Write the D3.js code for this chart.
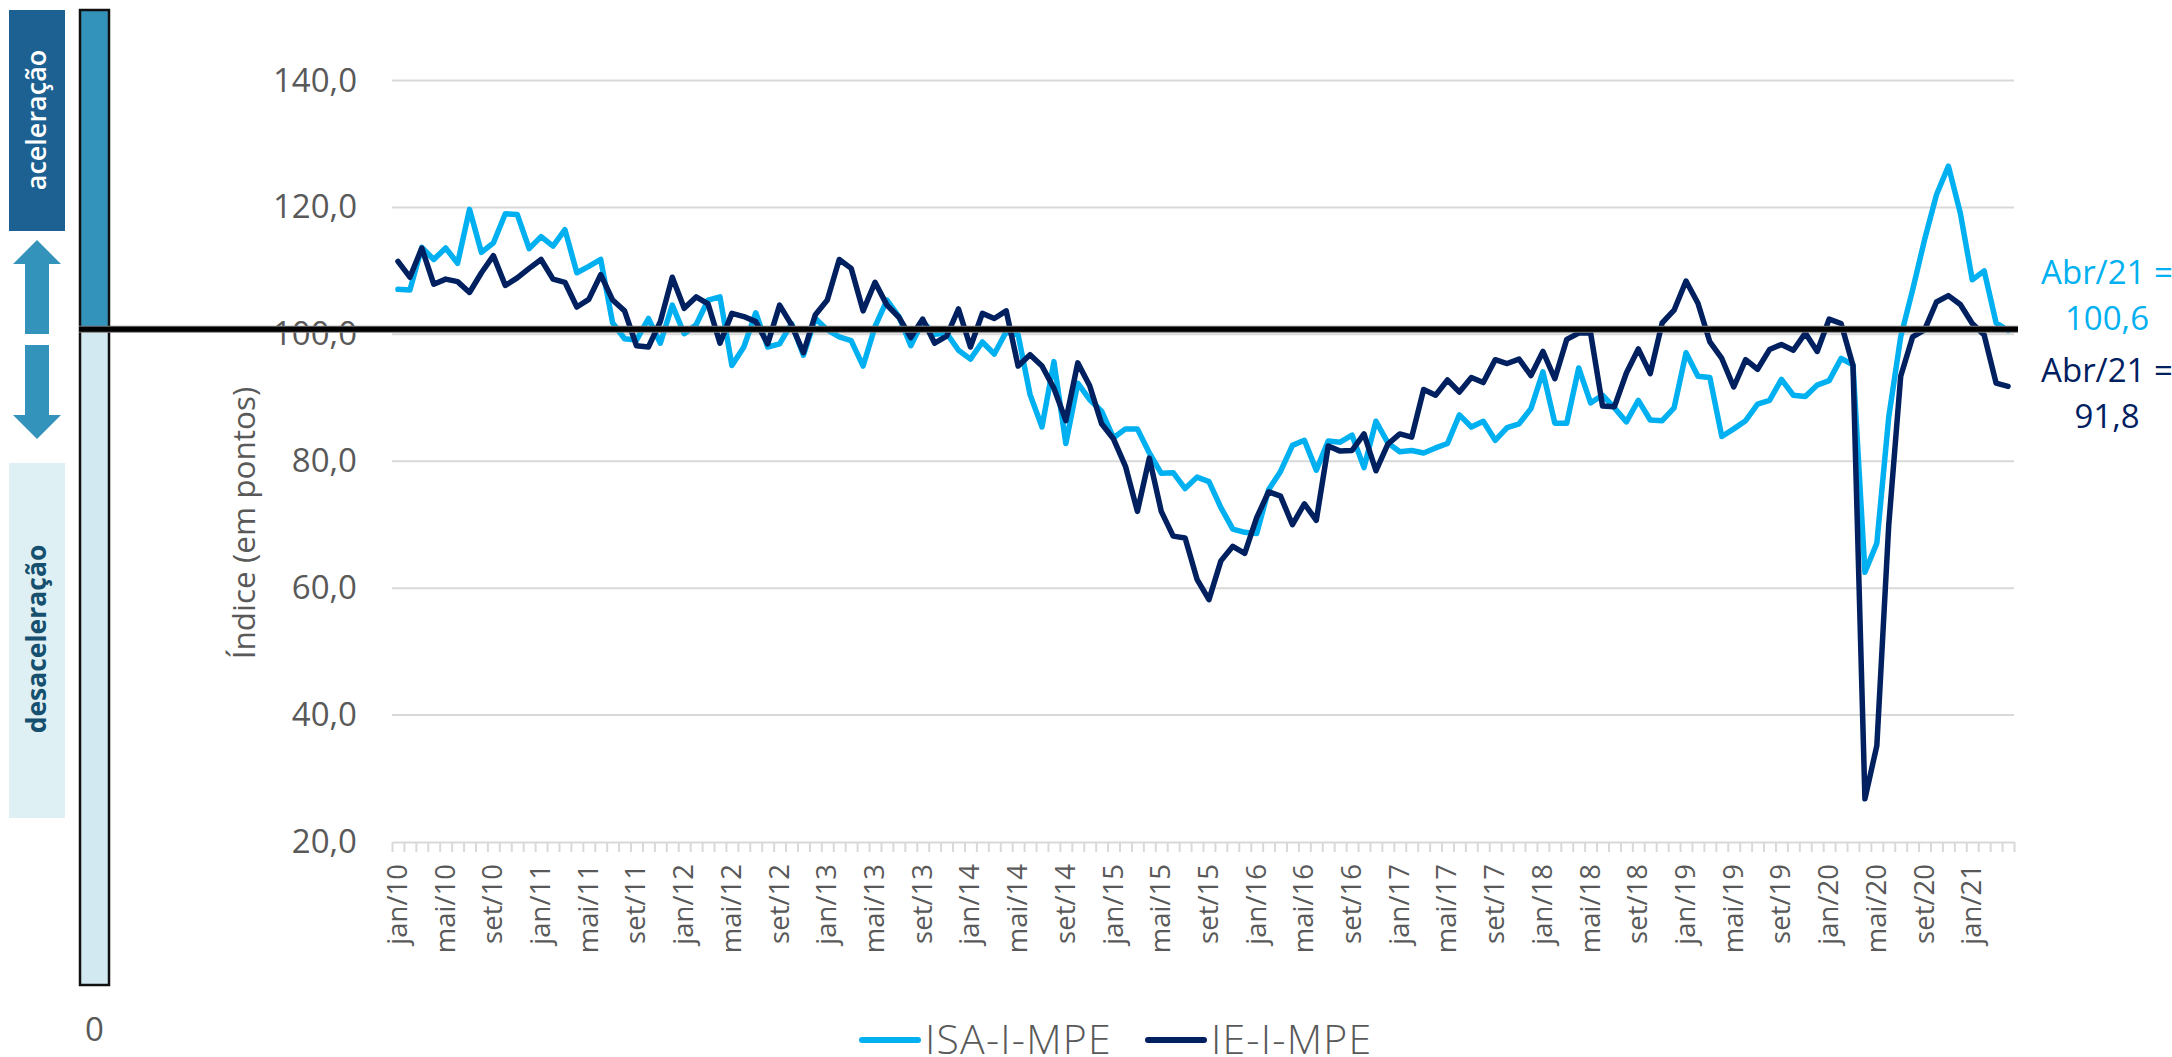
<!DOCTYPE html>
<html><head><meta charset="utf-8">
<style>
html,body{margin:0;padding:0;background:#fff;overflow:hidden}
text{font-family:"Open Sans","Noto Sans",sans-serif}
</style>
<script src="https://cdn.jsdelivr.net/npm/d3@7"></script>
</head><body><svg id="c" width="2172" height="1057"></svg>
<script>
const monthNames=["jan","fev","mar","abr","mai","jun","jul","ago","set","out","nov","dez"];
const years=["10","11","12","13","14","15","16","17","18","19","20","21"];
const monthCount=136;
const yTicks=[20,40,60,80,100,120,140];
const refLevel=100.8;
const isa=[107.1,107.0,113.7,111.8,113.6,111.2,119.7,112.9,114.4,119.0,118.9,113.5,115.4,113.9,116.5,109.7,110.7,111.8,101.8,99.3,
99.1,102.5,98.6,104.6,100.1,101.5,105.4,105.9,95.1,98.0,103.4,98.0,98.5,101.7,96.7,102.5,100.7,99.6,99.0,95.0,
101.2,105.4,102.8,98.2,102.0,100.0,100.2,97.5,96.1,98.8,96.9,100.4,99.9,90.5,85.4,95.7,82.8,92.3,89.7,87.9,
83.7,85.1,85.1,81.3,78.1,78.2,75.7,77.5,76.8,72.7,69.3,68.8,68.6,75.5,78.4,82.5,83.3,78.6,83.2,83.0,
84.1,79.0,86.3,82.9,81.5,81.7,81.3,82.1,82.8,87.3,85.4,86.3,83.3,85.3,85.9,88.3,94.1,86.0,86.0,94.7,
89.2,90.4,88.4,86.2,89.6,86.5,86.4,88.4,97.1,93.4,93.2,83.9,85.1,86.4,89.0,89.6,92.9,90.4,90.2,92.0,
92.7,96.2,95.2,62.5,67.1,87.0,99.6,107.0,114.9,122.0,126.5,119.1,108.6,110.0,101.8,100.6];
const ie=[111.5,109.0,113.6,107.9,108.7,108.3,106.6,109.7,112.4,107.7,108.9,110.4,111.8,108.7,108.2,104.3,105.5,109.4,105.4,103.7,
98.2,98.0,102.0,109.0,104.1,105.9,104.8,98.6,103.3,102.8,102.0,98.5,104.6,101.5,97.1,103.1,105.4,111.8,110.4,103.7,
108.2,104.6,102.7,99.5,102.4,98.6,99.7,104.0,98.0,103.3,102.5,103.7,95.0,96.8,95.0,91.5,86.4,95.5,91.9,85.9,
83.5,79.2,72.1,80.5,72.1,68.2,67.9,61.4,58.2,64.3,66.6,65.5,71.1,75.2,74.5,70.0,73.3,70.7,82.4,81.6,
81.7,84.3,78.5,82.7,84.3,83.8,91.3,90.4,92.8,90.9,93.2,92.4,96.0,95.4,96.1,93.5,97.3,93.0,99.2,100.2,
100.2,88.7,88.6,93.9,97.7,93.8,101.8,103.8,108.4,104.9,98.8,96.2,91.7,96.0,94.5,97.6,98.4,97.5,100.2,97.3,
102.4,101.7,95.1,26.8,35.2,70.0,93.4,99.6,100.7,105.1,106.1,104.7,101.7,99.9,92.3,91.8];
const seriesNames=["ISA-I-MPE","IE-I-MPE"];
const noteLines=[["Abr/21 =","100,6"],["Abr/21 =","91,8"]];
const sideLabels=["aceleração","desaceleração"];

const categories=d3.range(monthCount).map(i=>monthNames[i%12]+"/"+years[Math.floor(i/12)]);
const labelled=categories.filter((d,i)=>i%4===0);
const cISA="#00B0F0",cIE="#002060",grey="#595959",gridC="#D9D9D9";
const svg=d3.select("#c");
const L=392,R=2014,T=80.5,B=842;
const x=d3.scaleBand().domain(categories).range([L,R]).paddingInner(0).paddingOuter(0);
const xc=d=>x(d)+x.bandwidth()/2;
const y=d3.scaleLinear().domain([20,140]).range([B,T]);

// side decoration
const g0=svg.append("g");
g0.append("rect").attr("x",9).attr("y",10).attr("width",56).attr("height",221).attr("fill","#1C6192");
g0.append("rect").attr("x",9).attr("y",463).attr("width",56).attr("height",355).attr("fill","#DEF0F4");
const arrow=d3.path();
arrow.moveTo(37,240);arrow.lineTo(61,264);arrow.lineTo(49,264);arrow.lineTo(49,334);arrow.lineTo(25,334);arrow.lineTo(25,264);arrow.lineTo(13,264);arrow.closePath();
arrow.moveTo(25,345);arrow.lineTo(49,345);arrow.lineTo(49,415);arrow.lineTo(61,415);arrow.lineTo(37,439);arrow.lineTo(13,415);arrow.lineTo(25,415);arrow.closePath();
g0.append("path").attr("d",arrow.toString()).attr("fill","#3393BA");
g0.append("text").attr("transform","translate(37,120) rotate(-90)").attr("text-anchor","middle").attr("dy","0.35em")
  .attr("font-size",27).attr("font-weight",600).attr("fill","#fff").text(sideLabels[0]);
g0.append("text").attr("transform","translate(37,639) rotate(-90)").attr("text-anchor","middle").attr("dy","0.35em")
  .attr("font-size",26.5).attr("font-weight",700).attr("fill","#17506F").text(sideLabels[1]);
g0.append("rect").attr("x",80).attr("y",10).attr("width",29).attr("height",319).attr("fill","#3393BA");
g0.append("rect").attr("x",80).attr("y",329).attr("width",29).attr("height",656).attr("fill","#D2E9F2");
g0.append("rect").attr("x",80).attr("y",10).attr("width",29).attr("height",975).attr("fill","none").attr("stroke","#111").attr("stroke-width",2.5);
g0.append("text").attr("x",94.5).attr("y",1041).attr("text-anchor","middle").attr("font-size",33).attr("fill",grey).text("0");

// y axis
const yAxis=d3.axisLeft(y).tickValues(yTicks).tickSize(0).tickPadding(0).tickFormat(d=>d3.format(".1f")(d).replace(".",","));
const gy=svg.append("g").attr("transform","translate(357,0)").call(yAxis);
gy.select(".domain").remove();
gy.selectAll("text").attr("font-size",33).attr("fill",grey).attr("font-family",'"Open Sans"');
svg.append("g").selectAll("line").data(yTicks.filter(d=>d>20)).join("line")
  .attr("x1",L).attr("x2",R).attr("y1",d=>y(d)).attr("y2",d=>y(d)).attr("stroke",gridC).attr("stroke-width",2);

// x axis: edge ticks and labels
const edge=d3.scaleLinear().domain([0,monthCount]).range([L,R]);
const gx=svg.append("g").attr("transform",`translate(0,${B})`)
  .call(d3.axisBottom(edge).tickValues(d3.range(monthCount+1)).tickSize(10).tickSizeOuter(0).tickFormat(""));
gx.select(".domain").attr("stroke",gridC).attr("stroke-width",2);
gx.selectAll("line").attr("stroke",gridC).attr("stroke-width",2);
const gl=svg.append("g").attr("transform",`translate(0,${B})`)
  .call(d3.axisBottom(x).tickValues(labelled).tickSize(0).tickPadding(0));
gl.select(".domain").remove();
gl.selectAll("text").attr("font-size",27.5).attr("fill",grey).attr("font-family",'"Open Sans"')
  .attr("text-anchor","end").attr("dy",0).attr("y",0)
  .attr("transform","translate(9,22) rotate(-90)");

// axis title
svg.append("text").attr("transform","translate(244,523) rotate(-90)").attr("text-anchor","middle").attr("dy","0.35em")
  .attr("font-size",31.5).attr("fill",grey).text("Índice (em pontos)");

// lines
const line=d3.line().x((d,i)=>xc(categories[i])).y(d=>y(d));
[[isa,cISA],[ie,cIE]].forEach(([s,c])=>{
  svg.append("path").attr("d",line(s)).attr("fill","none").attr("stroke",c).attr("stroke-width",5.5)
    .attr("stroke-linejoin","round").attr("stroke-linecap","round");
});

// reference line
svg.append("line").attr("x1",79).attr("x2",2018).attr("y1",y(refLevel)).attr("y2",y(refLevel)).attr("stroke","#777").attr("stroke-width",7);
svg.append("line").attr("x1",79).attr("x2",2018).attr("y1",y(refLevel)).attr("y2",y(refLevel)).attr("stroke","#000").attr("stroke-width",5);

// end notes
[[noteLines[0],cISA,[284,330]],[noteLines[1],cIE,[382,428]]].forEach(([ls,c,ys])=>{
  ls.forEach((t,i)=>svg.append("text").attr("x",2107).attr("y",ys[i]).attr("text-anchor","middle").attr("font-size",33).attr("fill",c).text(t));
});

// legend
[[seriesNames[0],cISA,862,925],[seriesNames[1],cIE,1148,1211]].forEach(([t,c,kx,tx])=>{
  svg.append("line").attr("x1",kx).attr("x2",kx+56).attr("y1",1040).attr("y2",1040).attr("stroke",c).attr("stroke-width",6).attr("stroke-linecap","round");
  svg.append("text").attr("x",tx).attr("y",1054).attr("font-size",41).attr("font-weight",300).attr("letter-spacing",1.2).attr("fill",grey).text(t);
});
</script></body></html>
